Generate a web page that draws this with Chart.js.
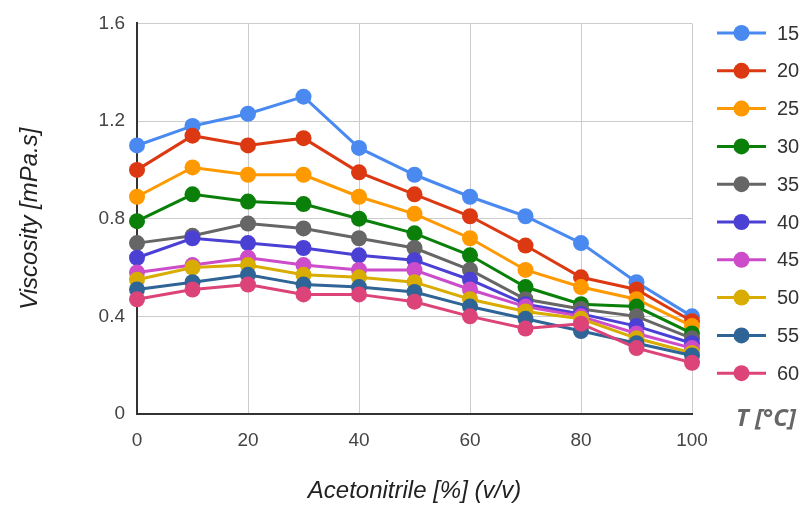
<!DOCTYPE html>
<html>
<head>
<meta charset="utf-8">
<script src="https://cdn.jsdelivr.net/npm/chart.js@4.4.0/dist/chart.umd.min.js"></script>
<style>
  html, body { margin: 0; padding: 0; background: #fff; }
  #wrap { position: relative; width: 803px; height: 510px; }
</style>
</head>
<body>
<div id="wrap"><canvas id="viscChart" width="803" height="510"></canvas></div>
<script>
// Acetonitrile content [%] (v/v)
const acetonitrile = [0, 10, 20, 30, 40, 50, 60, 70, 80, 90, 100];
// Temperatures [°C]
const temps = ['15', '20', '25', '30', '35', '40', '45', '50', '55', '60'];
const colors = ['#4a8af0', '#dc3912', '#ff9900', '#0a800a', '#666666',
                '#4a40d4', '#cc4cc9', '#d8ac00', '#2f6497', '#dc4479'];

// Viscosity [mPa.s] per temperature
const v15 = [1.10, 1.18, 1.23, 1.30, 1.09, 0.98, 0.89, 0.81, 0.70, 0.54, 0.40];
const v20 = [1.00, 1.14, 1.10, 1.13, 0.99, 0.90, 0.81, 0.69, 0.56, 0.51, 0.38];
const v25 = [0.89, 1.01, 0.98, 0.98, 0.89, 0.82, 0.72, 0.59, 0.52, 0.47, 0.36];
const v30 = [0.79, 0.90, 0.87, 0.86, 0.80, 0.74, 0.65, 0.52, 0.45, 0.44, 0.33];
const v35 = [0.70, 0.73, 0.78, 0.76, 0.72, 0.68, 0.59, 0.47, 0.43, 0.40, 0.31];
const v40 = [0.64, 0.72, 0.70, 0.68, 0.65, 0.63, 0.55, 0.45, 0.41, 0.36, 0.29];
const v45 = [0.58, 0.61, 0.64, 0.61, 0.59, 0.59, 0.51, 0.44, 0.40, 0.33, 0.27];
const v50 = [0.55, 0.60, 0.61, 0.57, 0.56, 0.54, 0.47, 0.42, 0.39, 0.31, 0.25];
const v55 = [0.51, 0.54, 0.57, 0.53, 0.52, 0.50, 0.44, 0.39, 0.34, 0.29, 0.24];
const v60 = [0.47, 0.51, 0.53, 0.49, 0.49, 0.46, 0.40, 0.35, 0.37, 0.27, 0.21];
const series = [v15, v20, v25, v30, v35, v40, v45, v50, v55, v60];

const FONT = "'Liberation Sans', Arial, sans-serif";

// legend drawn on the right: line + dot + label
const sideLegend = {
  id: 'sideLegend',
  afterDraw(chart) {
    const ctx = chart.ctx;
    ctx.save();
    chart.data.datasets.forEach((ds, i) => {
      const y = 33 + i * 37.8;
      ctx.strokeStyle = ds.borderColor;
      ctx.lineWidth = 3;
      ctx.beginPath();
      ctx.moveTo(717, y);
      ctx.lineTo(766, y);
      ctx.stroke();
      ctx.fillStyle = ds.borderColor;
      ctx.beginPath();
      ctx.arc(741.5, y, 8, 0, Math.PI * 2);
      ctx.fill();
      ctx.fillStyle = '#333';
      ctx.font = '20px ' + FONT;
      ctx.textBaseline = 'middle';
      ctx.textAlign = 'left';
      ctx.fillText(ds.label, 777, y + 1);
    });
    ctx.fillStyle = '#666';
    ctx.font = "italic bold 24px 'Open Sans', sans-serif";
    ctx.textBaseline = 'middle';
    ctx.fillText('T [°C]', 736, 419);
    ctx.restore();
  }
};

const ctx = document.getElementById('viscChart').getContext('2d');
new Chart(ctx, {
  type: 'line',
  data: {
    datasets: series.map((vals, i) => ({
      label: temps[i],
      data: acetonitrile.map((x, j) => ({ x: x, y: vals[j] })),
      borderColor: colors[i],
      backgroundColor: colors[i],
      borderWidth: 3,
      pointRadius: 8,
      pointBorderWidth: 0,
      pointHoverRadius: 8,
      tension: 0,
      clip: false,
      order: series.length - i
    }))
  },
  options: {
    responsive: false,
    animation: false,
    layout: { padding: { left: 12, top: 21, right: 111, bottom: 0 } },
    plugins: {
      legend: { display: false },
      tooltip: { enabled: false }
    },
    scales: {
      x: {
        type: 'linear',
        min: 0,
        max: 100,
        ticks: { stepSize: 20, padding: 15, color: '#444', font: { size: 19, family: FONT } },
        grid: { color: '#cccccc', drawTicks: false },
        border: { color: '#333', width: 2 },
        title: { display: true, text: 'Acetonitrile [%] (v/v)', color: '#222',
                 font: { size: 24, style: 'italic', family: FONT } },
        afterFit(scale) { scale.height = 96; }
      },
      y: {
        min: 0,
        max: 1.6,
        ticks: { stepSize: 0.4, padding: 12, color: '#444', font: { size: 19, family: FONT } },
        grid: { color: '#cccccc', drawTicks: false },
        border: { color: '#333', width: 2 },
        title: { display: true, text: 'Viscosity [mPa.s]', color: '#222',
                 font: { size: 24, style: 'italic', family: FONT } },
        afterFit(scale) { scale.width = 125; }
      }
    }
  },
  plugins: [sideLegend]
});
</script>
</body>
</html>
